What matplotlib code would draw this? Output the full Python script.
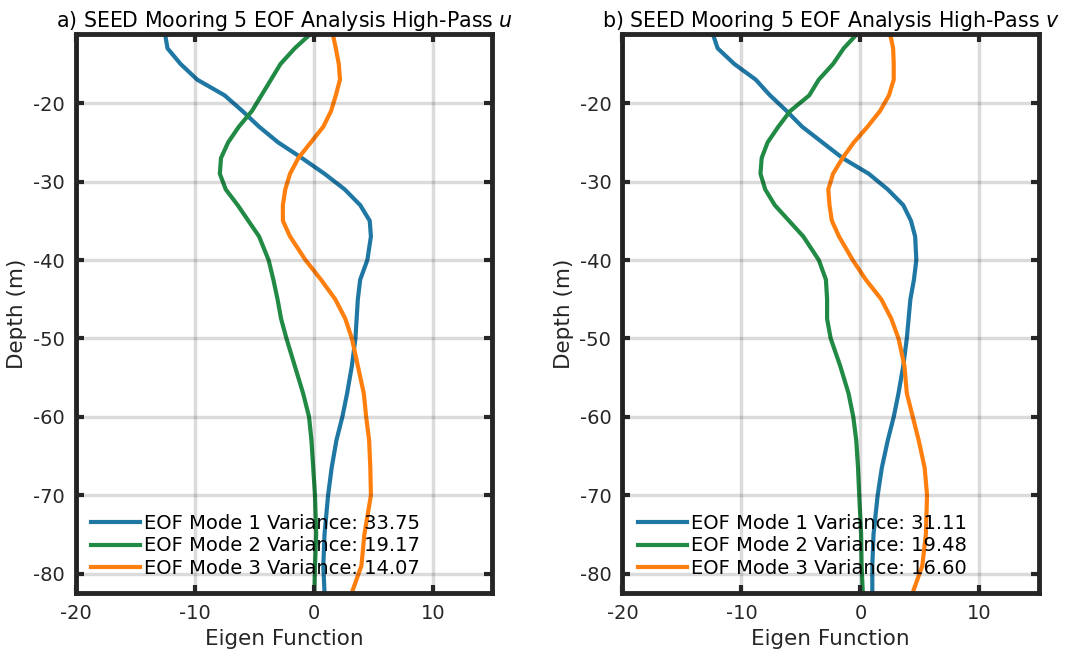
import numpy as np
import matplotlib
matplotlib.use('Agg')
import matplotlib.pyplot as plt

plt.rcParams['axes.unicode_minus'] = False  # plain hyphen like the original

# depth levels (m), shared by all profiles
depth = [-11.2, -13, -15, -17, -19, -21, -23, -25, -27, -29, -31, -33, -35, -37,
         -40, -42.5, -45, -47.5, -50, -53.5, -57, -60, -63, -66.5, -70, -75, -79, -82.4]

# panel a) high-pass u
u_mode1 = [-12.5, -12.3, -11.2, -9.8, -7.5, -6.0, -4.6, -3.0, -1.0, 0.9, 2.6, 3.9, 4.7, 4.8,
           4.5, 3.9, 3.7, 3.6, 3.5, 3.2, 2.8, 2.4, 1.9, 1.5, 1.2, 0.9, 0.8, 0.9]
u_mode2 = [-0.3, -1.6, -2.8, -3.6, -4.4, -5.2, -6.3, -7.2, -7.8, -7.9, -7.4, -6.4, -5.5, -4.6,
           -3.8, -3.4, -3.05, -2.75, -2.3, -1.6, -0.9, -0.4, -0.2, -0.05, 0.1, 0.2, 0.1, 0.05]
u_mode3 = [1.6, 1.85, 2.1, 2.2, 1.85, 1.45, 0.8, -0.25, -1.3, -2.0, -2.4, -2.6, -2.6, -2.0,
           -0.7, 0.6, 1.8, 2.65, 3.2, 3.7, 4.2, 4.4, 4.65, 4.75, 4.8, 4.25, 4.0, 3.2]
u_var = [33.75, 19.17, 14.07]

# panel b) high-pass v
v_mode1 = [-12.4, -12.0, -10.6, -8.8, -7.6, -6.2, -4.9, -3.2, -1.5, 0.7, 2.3, 3.6, 4.25, 4.6,
           4.7, 4.5, 4.2, 4.05, 3.9, 3.6, 3.2, 2.8, 2.3, 1.8, 1.45, 1.1, 1.0, 1.0]
v_mode2 = [-0.3, -1.4, -2.3, -3.5, -4.3, -5.9, -6.9, -7.8, -8.3, -8.4, -8.0, -7.2, -6.0, -4.8,
           -3.5, -2.9, -2.8, -2.8, -2.5, -1.7, -1.0, -0.6, -0.35, -0.2, -0.1, 0.06, 0.1, 0.2]
v_mode3 = [2.5, 2.75, 2.8, 2.8, 2.4, 1.65, 0.6, -0.55, -1.5, -2.3, -2.7, -2.6, -2.4, -1.8,
           -0.65, 0.45, 1.75, 2.6, 3.2, 3.7, 3.9, 4.4, 4.9, 5.4, 5.6, 5.5, 5.2, 4.4]
v_var = [31.11, 19.48, 16.60]

colors = ['#1f77a4', '#218a44', '#ff7f0e']
dark = '#262626'

fig = plt.figure(figsize=(10.76, 6.57), dpi=100)
ax1 = fig.add_axes([0.0705, 0.097, 0.387, 0.851])
ax2 = fig.add_axes([0.5785, 0.097, 0.387, 0.851])

panels = [(ax1, [u_mode1, u_mode2, u_mode3], u_var, 'a) SEED Mooring 5 EOF Analysis High-Pass $u$'),
          (ax2, [v_mode1, v_mode2, v_mode3], v_var, 'b) SEED Mooring 5 EOF Analysis High-Pass $v$')]

for ax, modes, var, title in panels:
    for i in range(3):
        ax.plot(modes[i], depth, color=colors[i], lw=3.0, zorder=2,
                solid_joinstyle='round',
                label='EOF Mode %d Variance: %.2f' % (i + 1, var[i]))
    ax.set_xlim(-20, 15)
    ax.set_ylim(-82.5, -11.2)
    ax.set_xticks([-20, -10, 0, 10])
    ax.set_yticks([-80, -70, -60, -50, -40, -30, -20])
    # grid sits on top of the lines, semi-transparent
    ax.grid(True, color='black', alpha=0.14, lw=2.5, zorder=3)
    ax.set_axisbelow(False)
    for s in ax.spines.values():
        s.set_linewidth(3.5)
        s.set_color(dark)
    ax.tick_params(direction='in', length=6, width=3, color=dark, labelcolor=dark,
                   labelsize=14, top=True, right=True, pad=8)
    ax.set_xlabel('Eigen Function', fontsize=15.5, color=dark)
    ax.set_ylabel('Depth (m)', fontsize=15.5, color=dark)
    ax.set_title(title, fontsize=14.8, color='black', pad=5)
    ax.legend(loc='lower left', frameon=False, fontsize=14, handlelength=2.5,
              handletextpad=0.2, labelspacing=0.17, borderaxespad=0.4)

fig.savefig('out.png', dpi=100)
